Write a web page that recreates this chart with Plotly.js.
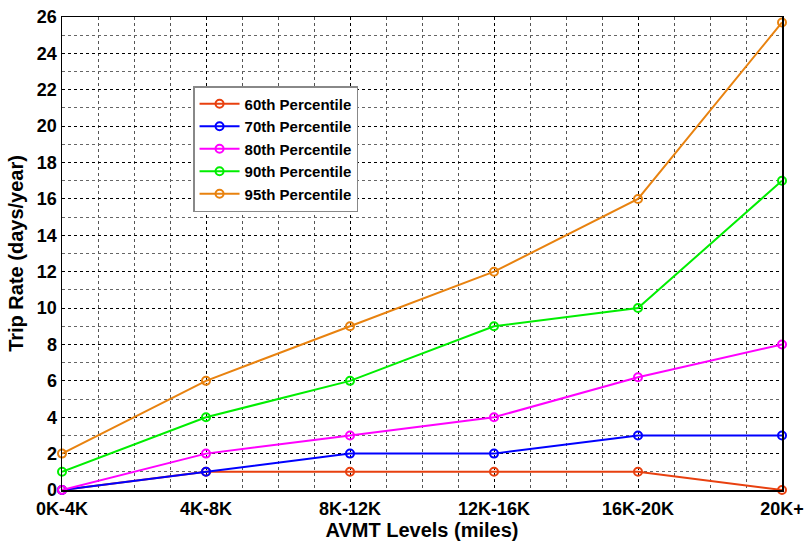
<!DOCTYPE html>
<html>
<head>
<meta charset="utf-8">
<script src="https://cdn.plot.ly/plotly-3.0.1.min.js"></script>
<style>html,body{margin:0;padding:0;background:#fff;}#chart{width:806px;height:541px;}</style>
</head>
<body>
<div id="chart"></div>
<script>
const categories = ["0K-4K", "4K-8K", "8K-12K", "12K-16K", "16K-20K", "20K+"];
const seriesNames = ["60th Percentile", "70th Percentile", "80th Percentile", "90th Percentile", "95th Percentile"];
const p60 = [0, 1, 1, 1, 1, 0];
const p70 = [0, 1, 2, 2, 3, 3];
const p80 = [0, 2, 3, 4, 6.2, 8];
const p90 = [1, 4, 6, 9, 10, 17];
const p95 = [2, 6, 9, 12, 16, 25.7];
const yTicks = [0, 2, 4, 6, 8, 10, 12, 14, 16, 18, 20, 22, 24, 26];

const colors = ["#e8400f", "#0000ff", "#ff00ff", "#00ee00", "#e8820f"];
const allSeries = [p60, p70, p80, p90, p95];
const xIdx = categories.map((c, i) => i);

const traces = allSeries.map((vals, k) => ({
  x: xIdx, y: vals, name: seriesNames[k], type: "scatter", mode: "lines+markers",
  line: {color: colors[k], width: 2},
  marker: {symbol: "circle-open", size: 8, color: colors[k], line: {width: 2, color: colors[k]}},
  cliponaxis: false
}));

const fontFam = "Liberation Sans, Arial, sans-serif";
const layout = {
  width: 806, height: 541,
  margin: {l: 62, r: 24, t: 17, b: 51},
  paper_bgcolor: "#fff", plot_bgcolor: "#fff",
  showlegend: true,
  legend: {x: 0.182, y: 0.854, xanchor: "left", yanchor: "top", bgcolor: "#fff",
           bordercolor: "#888", borderwidth: 1.5,
           font: {family: fontFam, size: 15, color: "#000", weight: "bold"},
           tracegroupgap: 0, itemwidth: 40},
  xaxis: {
    range: [0, 5], tickvals: xIdx, ticktext: categories,
    tickfont: {family: fontFam, size: 18, color: "#000", weight: "bold"},
    ticklabelstandoff: 2,
    showgrid: true, gridcolor: "#000", griddash: "3px,3px", gridwidth: 1,
    minor: {dtick: 0.25, tick0: 0, showgrid: true, gridcolor: "#555", griddash: "3px,3px", gridwidth: 1},
    showline: true, linecolor: "#000", linewidth: 1.5, mirror: true,
    ticks: "", zeroline: false,
    title: {text: "AVMT Levels (miles)", font: {family: fontFam, size: 20, color: "#000", weight: "bold"}, standoff: 4}
  },
  yaxis: {
    range: [0, 26], tickvals: yTicks,
    tickfont: {family: fontFam, size: 18, color: "#000", weight: "bold"},
    showgrid: true, gridcolor: "#000", griddash: "3px,3px", gridwidth: 1,
    minor: {dtick: 1, tick0: 0, showgrid: true, gridcolor: "#666", griddash: "3px,3px", gridwidth: 1},
    showline: true, linecolor: "#000", linewidth: 1.5, mirror: true,
    ticks: "", zeroline: false,
    title: {text: "Trip Rate (days/year)", font: {family: fontFam, size: 20, color: "#000", weight: "bold"}, standoff: 8}
  }
};

Plotly.newPlot("chart", traces, layout, {displayModeBar: false, staticPlot: true});
</script>
</body>
</html>
